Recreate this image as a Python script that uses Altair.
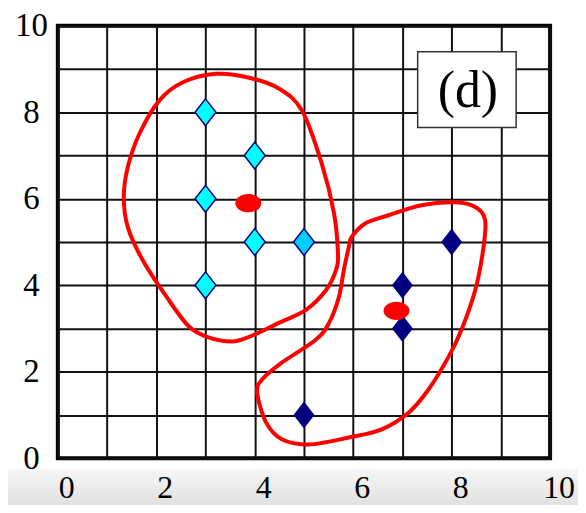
import altair as alt
import pandas as pd

# ---- data ----
cyan_x = [3, 4, 3, 4, 5, 3]
cyan_y = [8, 7, 6, 5, 5, 4]
cyan_fill = ["#00FFFF", "#00FFFF", "#00FFFF", "#00FFFF", "#00CCFF", "#00FFFF"]

navy_x = [8, 7, 7, 5]
navy_y = [5, 4, 3, 1]

centroid_x = [3.87, 6.88]
centroid_y = [5.90, 3.41]

curve1_x = [3.22, 3.89, 4.49, 4.96, 5.36, 5.61, 5.69, 5.65, 5.45, 5.04, 4.49, 3.89,
            3.54, 3.08, 2.67, 2.21, 1.72, 1.42, 1.34, 1.42, 1.66, 2.06, 2.53]
curve1_y = [8.89, 8.80, 8.55, 8.04, 6.82, 5.67, 4.75, 4.35, 3.89, 3.43, 3.13, 2.81,
            2.70, 2.79, 3.04, 3.73, 4.59, 5.35, 6.04, 6.73, 7.51, 8.27, 8.69]

curve2_x = [5.97, 6.26, 6.72, 7.39, 8.08, 8.48, 8.68, 8.64, 8.48, 8.20, 7.94, 7.53, 7.13,
            6.58, 5.91, 5.10, 4.55, 4.23, 4.05, 4.15, 4.55, 5.24, 5.51, 5.71, 5.81, 5.91]
curve2_y = [5.12, 5.44, 5.62, 5.85, 5.92, 5.81, 5.51, 4.82, 3.89, 2.97, 2.35, 1.59, 1.06,
            0.67, 0.48, 0.32, 0.44, 0.83, 1.52, 1.82, 2.21, 2.74, 3.13, 3.73, 4.35, 4.88]

label_text = ["(d)"]
label_x = [8.33]
label_y = [8.48]
box_x = [7.31]
box_x2 = [9.31]
box_y = [9.40]
box_y2 = [7.65]

tick_values = list(range(11))
xtick_pos = [0, 2, 4, 6, 8, 10]
xtick_labels = ["0", "2", "4", "6", "8", "10"]

# ---- frames ----
cyan_df = pd.DataFrame({"x": cyan_x, "y": cyan_y, "fill": cyan_fill})
navy_df = pd.DataFrame({"x": navy_x, "y": navy_y})
cent_df = pd.DataFrame({"x": centroid_x, "y": centroid_y})
curves_df = pd.concat([
    pd.DataFrame({"x": curve1_x, "y": curve1_y, "k": "a", "o": range(len(curve1_x))}),
    pd.DataFrame({"x": curve2_x, "y": curve2_y, "k": "b", "o": range(len(curve2_x))}),
])
box_df = pd.DataFrame({"x": box_x, "x2": box_x2, "y": box_y, "y2": box_y2})
lab_df = pd.DataFrame({"x": label_x, "y": label_y, "t": label_text})
xt_df = pd.DataFrame({"x": xtick_pos, "t": xtick_labels})

SERIF = "Liberation Serif"
xs = alt.Scale(domain=[0, 10], nice=False, zero=False)
ys = alt.Scale(domain=[0, 10], nice=False, zero=False)

xaxis = alt.Axis(values=tick_values, grid=True, gridColor="#111111", gridWidth=2,
                 domain=False, ticks=False, title=None, labels=False)
yaxis = alt.Axis(values=tick_values, grid=True, gridColor="#111111", gridWidth=2,
                 domain=False, ticks=False, title=None, labelFont=SERIF,
                 labelFontSize=33, labelColor="#000000", labelPadding=27,
                 labelAlign="center", labelBaseline="middle", labelOffset=0,
                 labelFlush=False, labelOverlap=False,
                 labelExpr="datum.value % 2 == 0 ? datum.label : ''")

band = alt.Chart(pd.DataFrame({"a": [0]})).mark_rect(
    color=alt.Gradient(gradient="linear", x1=0, x2=0, y1=0, y2=1,
                       stops=[alt.GradientStop(color="#f6f6f6", offset=0),
                              alt.GradientStop(color="#e0e0e0", offset=1)])
).encode(x=alt.value(-60), x2=alt.value(540), y=alt.value(445), y2=alt.value(483))

base = alt.Chart(cyan_df).mark_point(opacity=0).encode(
    x=alt.X("x:Q", scale=xs, axis=xaxis),
    y=alt.Y("y:Q", scale=ys, axis=yaxis),
)

xticks = alt.Chart(xt_df).mark_text(font=SERIF, fontSize=32, color="#000000",
                                    baseline="middle", align="center", dx=9).encode(
    x="x:Q", y=alt.value(464), text="t:N")

diamond = "M0,-1L0.78,0L0,1L-0.78,0Z"
ellipse = ("M-1,0C-1,-0.39,-0.55,-0.7,0,-0.7C0.55,-0.7,1,-0.39,1,0"
           "C1,0.39,0.55,0.7,0,0.7C-0.55,0.7,-1,0.39,-1,0Z")

box = alt.Chart(box_df).mark_rect(fill="#ffffff", stroke="#333333", strokeWidth=1.5).encode(
    x="x:Q", x2="x2", y="y:Q", y2="y2")
lab = alt.Chart(lab_df).mark_text(font=SERIF, fontSize=52, color="#000000",
                                  baseline="middle").encode(x="x:Q", y="y:Q", text="t:N")

curves = alt.Chart(curves_df).mark_line(color="#FF0000", strokeWidth=4,
                                        interpolate="cardinal-closed").encode(
    x="x:Q", y="y:Q", detail="k:N", order="o:Q")

cyan = alt.Chart(cyan_df).mark_point(shape=diamond, size=729, filled=True,
                                     stroke="#000080", strokeWidth=1.5, opacity=1).encode(
    x="x:Q", y="y:Q", fill=alt.Fill("fill:N", scale=None))
navy = alt.Chart(navy_df).mark_point(shape=diamond, size=729, filled=True,
                                     color="#000080", opacity=1).encode(x="x:Q", y="y:Q")
cent = alt.Chart(cent_df).mark_point(shape=ellipse, size=680, filled=True,
                                     color="#FF0000", opacity=1).encode(x="x:Q", y="y:Q")

chart = alt.layer(band, base, xticks, box, lab, curves, cyan, navy, cent).properties(
    width=494, height=434,
    autosize=alt.AutoSizeParams(type="none"),
    padding={"left": 50, "top": 17, "right": 28, "bottom": 46},
).configure_view(stroke="#000000", strokeWidth=4)

chart.save("out.html", embed_options={"renderer": "svg", "actions": False})
